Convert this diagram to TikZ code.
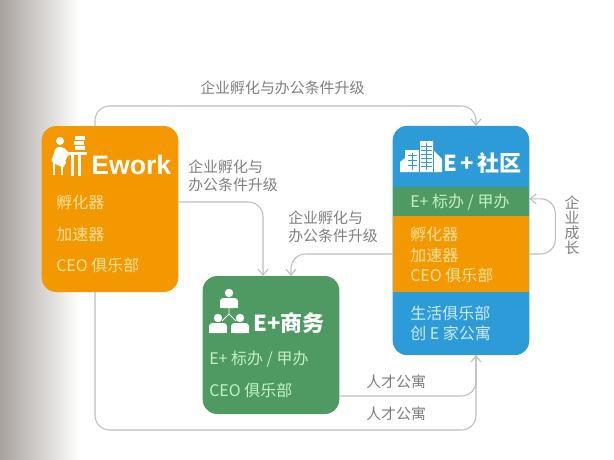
\documentclass[tikz,border=0pt]{standalone}
\usepackage{fontspec}
\setmainfont{Noto Sans CJK SC}
\newfontfamily\latinb{Liberation Sans}
\usetikzlibrary{arrows.meta}
\definecolor{eorange}{HTML}{F39800}
\definecolor{eblue}{HTML}{2E9BD9}
\definecolor{egreen}{HTML}{4F9A62}
\definecolor{eline}{HTML}{BDBDBD}
\definecolor{elabel}{HTML}{7F7F7F}
\definecolor{tor}{HTML}{FFE2A0}
\definecolor{tbl}{HTML}{CDEBFA}
\definecolor{tgr}{HTML}{C4F0C4}
\definecolor{shadeL}{HTML}{A8A29E}
\definecolor{shadeM}{HTML}{CFCBC9}
\tikzset{
 card/.style={inner sep=0pt,outer sep=0pt,rounded corners=11pt,minimum width=102.5pt},
 band/.style={inner sep=0pt,outer sep=0pt,minimum width=102.5pt},
 flow/.style={draw=eline,line width=.8pt,rounded corners=11pt,-{Straight Barb[length=4.5pt,width=7.5pt]}},
 plain/.style={draw=eline,line width=.8pt,rounded corners=11pt},
 lab/.style={text=elabel,font=\fontsize{11.2pt}{13.5pt}\selectfont,inner sep=0pt,anchor=west,align=left},
 body/.style={font=\fontsize{12pt}{13pt}\selectfont,inner sep=0pt,anchor=west},
 head/.style={text=white,font=\fontsize{16.5pt}{18pt}\selectfont\bfseries,inner sep=0pt,anchor=west},
 personicon/.pic={
  \fill[white] (0,0) circle[radius=4.2];
  \fill[white,rounded corners=2.5pt] (-9,15) -- (-9,5) -- (9,5) -- (9,15) -- cycle;
  \fill[white] (-9,12) rectangle (9,15);
 }
}
\begin{document}
\begin{tikzpicture}[x=.75pt,y=-.75pt]
\useasboundingbox (0,0) rectangle (614,460);
\fill[white] (0,0) rectangle (614,460);
\shade[left color=shadeL, middle color=shadeM, right color=white] (0,0) rectangle (80,460);
% cards
\node[card,fill=eorange,minimum height=124.5pt] (ework) at (110,209) {};
\node[card,fill=eblue,minimum height=172pt] (community) at (461,240.5) {};
\node[card,fill=egreen,minimum height=103.5pt] (biz) at (271,345) {};
\node[band,fill=egreen,minimum height=21.75pt] (sgreen) at (461,201.5) {};
\node[band,fill=eorange,minimum height=57pt] (sorange) at (461,254) {};
% connectors
\draw[flow] ([xshift=-11.25pt]ework.north) -- ++(0,-20) -| ([xshift=11.25pt]community.north);
\draw[flow] ([yshift=5.25pt]ework.east) -| ([xshift=-6pt]biz.north);
\draw[flow] (sorange.west) -| ([xshift=15pt]biz.north);
\draw[flow] (sorange.east) -- ++(26,0) |- ([yshift=2pt]sgreen.east);
\draw[plain] ([yshift=-38.25pt]biz.east) -| ([xshift=11.25pt]community.south);
\draw[flow] ([xshift=-11.25pt]ework.south) |- (300,430) -| ([xshift=11.25pt]community.south);
% labels
\node[lab] (t1) at (200,88) {企业孵化与办公条件升级};
\node[lab] (t2) at (188,176) {企业孵化与\\办公条件升级};
\node[lab] (t3) at (288,227) {企业孵化与\\办公条件升级};
\node[lab,align=center,anchor=center,font=\fontsize{11.2pt}{11.25pt}\selectfont] (t4) at (572,225) {企\\业\\成\\长};
\node[lab] (t5) at (366,382) {人才公寓};
\node[lab] (t6) at (366,414) {人才公寓};
% Ework text
\node[head,font=\latinb\fontsize{20pt}{22pt}\selectfont\bfseries] (h1) at (91,165) {Ework};
\node[body,text=tor] (e1) at (56,202) {孵化器};
\node[body,text=tor] (e2) at (56,234) {加速器};
\node[body,text=tor] (e3) at (56,265) {CEO 俱乐部};
% community text
\node[head] (h2) at (443,163) {E\,+\,社区};
\node[body,text=tgr] (c1) at (410,202) {E+ 标办 / 甲办};
\node[body,text=tor] (c2) at (410,234) {孵化器};
\node[body,text=tor] (c3) at (410,255) {加速器};
\node[body,text=tor] (c4) at (410,275) {CEO 俱乐部};
\node[body,text=tbl] (c5) at (410,313) {生活俱乐部};
\node[body,text=tbl] (c6) at (410,333) {创 E 家公寓};
% biz text
\node[head] (h3) at (253,323) {E+商务};
\node[body,text=tgr] (b1) at (209,359) {E+ 标办 / 甲办};
\node[body,text=tgr] (b2) at (209,390) {CEO 俱乐部};
% Ework icon
\fill[white] (60,141) circle[radius=4];
\fill[white,rounded corners=1.5pt] (56,147) -- (63,147) -- (70,154) -- (66,158) -- (64,168) -- (51,162) -- cycle;
\fill[white] (53,161) rectangle (66,164);
\draw[white,line width=1.3pt] (54,163) -- (54,175) (62,163) -- (62,175);
\fill[white] (66,152) rectangle (87,155);
\fill[white] (71,155) rectangle (74,176);
\fill[white] (78,155) rectangle (81,176);
\fill[white] (75,136) rectangle (85,139.5);
\fill[white] (74,141) rectangle (84,144.5);
\fill[white] (75,146) rectangle (85,150);
% building icon
\fill[white] (400,172) -- (400,162) -- (405,158) -- (405,150) -- (419,150) -- (419,141) -- (433,141) -- (433,150) -- (442,159) -- (442,172) -- cycle;
\draw[eblue,line width=.5pt] (420.5,146) -- (431.5,146) (420.5,150) -- (431.5,150) (420.5,154) -- (431.5,154) (420.5,158) -- (431.5,158) (420.5,162) -- (431.5,162) (420.5,166) -- (431.5,166) (426,143) -- (426,170) (408,155) -- (417,155) (408,160) -- (417,160) (408,165) -- (417,165) (412.5,153) -- (412.5,170) (419.2,141) -- (419.2,172) (433,150) -- (433,172);
% people icon
\pic at (229,293) {personicon};
\pic at (218,318) {personicon};
\pic at (240,318) {personicon};
\draw[white,line width=.6pt] (229,308) -- (229,314) -- (222,321) (229,314) -- (236,321);
\end{tikzpicture}
\end{document}
